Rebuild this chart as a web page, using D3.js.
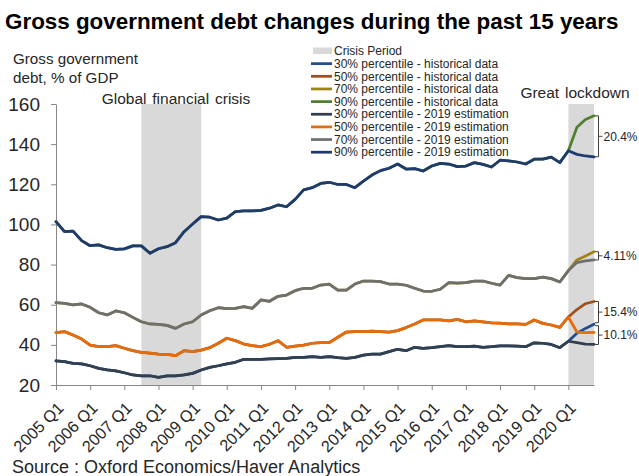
<!DOCTYPE html>
<html>
<head>
<meta charset="utf-8">
<script src="https://cdn.jsdelivr.net/npm/d3@7"></script>
<style>
  body { margin: 0; background: #fff; }
  svg { font-family: 'Liberation Sans', Arial, sans-serif; }
  .axis path, .axis line { stroke: #868686; }
  .axis text { fill: #262626; }
  .line { fill: none; stroke-width: 2.75; stroke-linejoin: round; stroke-linecap: round; }
</style>
</head>
<body>
<svg id="chart" width="639" height="476"></svg>
<script>
const margin = {top: 104, right: 45, bottom: 91, left: 56};

// categories
const years = ['2005', '2006', '2007', '2008', '2009', '2010', '2011', '2012',
               '2013', '2014', '2015', '2016', '2017', '2018', '2019', '2020'];
const quarterNames = ['Q1', 'Q2', 'Q3', 'Q4'];
const tickLabels = ['2005 Q1', '2006 Q1', '2007 Q1', '2008 Q1', '2009 Q1', '2010 Q1',
                    '2011 Q1', '2012 Q1', '2013 Q1', '2014 Q1', '2015 Q1', '2016 Q1',
                    '2017 Q1', '2018 Q1', '2019 Q1', '2020 Q1'];

// 2005 Q1 - 2020 Q1, shared by historical data and 2019 estimation
const p30 = [32.0, 31.6, 30.8, 30.5, 29.6, 28.3, 27.5, 27.0, 26.1, 25.0,
             24.6, 24.6, 23.8, 24.5, 24.6, 25.0, 25.8, 27.5, 28.8, 29.6,
             30.5, 31.3, 32.8, 32.8, 32.8, 33.0, 33.2, 33.3, 33.8, 33.8,
             34.1, 33.8, 34.1, 33.6, 33.3, 33.8, 34.9, 35.4, 35.4, 36.6,
             37.8, 37.1, 38.8, 38.3, 38.6, 39.1, 39.6, 39.1, 39.1, 39.4,
             38.8, 39.1, 39.5, 39.5, 39.4, 39.1, 41.0, 40.8, 40.2, 38.6, 41.8];
const p50 = [46.1, 46.6, 44.9, 42.9, 39.9, 39.1, 39.1, 39.6, 38.3, 37.1,
             36.3, 35.9, 35.4, 35.3, 34.6, 37.1, 36.6, 37.4, 38.6, 40.8,
             43.3, 42.1, 40.4, 39.6, 39.1, 40.3, 42.1, 38.8, 39.4, 39.9,
             40.8, 41.1, 41.1, 43.8, 46.4, 46.6, 46.6, 46.9, 46.6, 46.3,
             47.1, 48.6, 50.4, 52.4, 52.4, 52.4, 52.0, 52.7, 51.5, 51.9,
             51.5, 51.0, 50.8, 50.5, 50.5, 50.2, 52.4, 50.7, 49.9, 48.7, 53.9];
const p70 = [61.0, 60.7, 59.9, 60.4, 58.7, 56.0, 54.9, 56.9, 56.0, 53.7,
             51.5, 50.4, 50.2, 49.7, 48.2, 50.4, 51.5, 54.9, 57.0, 58.5,
             58.0, 58.2, 59.0, 58.2, 62.4, 61.7, 64.2, 64.8, 67.0, 68.2,
             68.2, 69.8, 70.3, 67.3, 67.3, 70.3, 71.8, 71.8, 71.5, 70.3,
             70.3, 69.7, 68.2, 66.8, 66.7, 67.7, 71.0, 70.7, 71.0, 71.8,
             71.8, 70.7, 69.8, 74.6, 73.5, 73.0, 73.0, 73.7, 73.0, 71.3, 77.0];
const p90 = [101.4, 96.4, 96.7, 91.9, 89.4, 89.8, 88.4, 87.6, 87.8, 89.3,
             89.3, 85.6, 87.9, 88.9, 90.9, 96.4, 100.2, 103.9, 103.6, 102.2,
             103.1, 106.4, 106.7, 106.7, 107.0, 108.1, 109.7, 108.8, 112.5, 117.2,
             118.3, 120.4, 121.0, 119.9, 119.9, 118.3, 121.6, 124.6, 126.8, 128.0,
             130.1, 127.6, 127.8, 126.6, 129.1, 130.4, 130.1, 128.8, 129.1, 130.8,
             129.9, 128.6, 132.0, 131.7, 131.1, 130.1, 132.5, 132.5, 133.5, 130.8, 136.7];

// 2020 Q2 - 2020 Q4
const hist30Rest = [45.8, 48.2, 50.3];
const hist50Rest = [57.6, 60.5, 61.6];
const hist70Rest = [82.3, 84.3, 86.4];
const hist90Rest = [148.4, 152.3, 154.1];
const est30Rest = [41.1, 40.4, 40.2];
const est50Rest = [46.4, 46.1, 46.2];
const est70Rest = [81.0, 81.8, 82.3];
const est90Rest = [134.9, 134.1, 133.7];

const seriesNames = ['30% percentile - historical data', '50% percentile - historical data',
                     '70% percentile - historical data', '90% percentile - historical data',
                     '30% percentile - 2019 estimation', '50% percentile - 2019 estimation',
                     '70% percentile - 2019 estimation', '90% percentile - 2019 estimation'];
const seriesColors = ['#1f4e8c', '#a0501c', '#9e8216', '#4f7f2f',
                      '#323f4f', '#e46c0a', '#6f6f6f', '#1f3a6e'];

const crisisFrom = ['2007 Q3', '2020 Q1'];
const crisisTo = ['2009 Q2', '2020 Q4'];
const gapLabels = ['20.4%', '4.11%', '15.4%', '10.1%'];

function chart() {
    let quarters = [];
    years.forEach((yr) => {
      quarterNames.forEach((q) => { quarters.push(yr + ' ' + q); });
    });

    let seriesValues = [
      p30.concat(hist30Rest), p50.concat(hist50Rest), p70.concat(hist70Rest), p90.concat(hist90Rest),
      p30.concat(est30Rest), p50.concat(est50Rest), p70.concat(est70Rest), p90.concat(est90Rest)
    ];

    let width = 639 - margin.left - margin.right;
    let height = 476 - margin.top - margin.bottom;

    let svg = d3.select('#chart');
    let g = svg.append('g')
      .attr('transform', 'translate(' + margin.left + ',' + margin.top + ')');

    // set ranges
    let x = d3.scalePoint().domain(quarters).range([0, width]);
    let y = d3.scaleLinear().domain([20, 160]).range([height, 0]);

    // crisis period shading
    g.selectAll('rect.crisis')
      .data(crisisFrom)
      .enter().append('rect')
      .attr('class', 'crisis')
      .attr('x', (d) => x(d))
      .attr('y', 0)
      .attr('width', (d, i) => x(crisisTo[i]) - x(d))
      .attr('height', height)
      .attr('fill', '#d9d9d9');

    // draw y-axis
    let yAxis = g.append('g')
      .attr('class', 'axis axis-y')
      .call(d3.axisLeft(y).tickValues(d3.range(20, 161, 20)).tickSize(5).tickPadding(11).tickSizeOuter(0));
    yAxis.attr('font-size', 19).attr('font-family', null);

    // draw x-axis
    let xAxis = g.append('g')
      .attr('class', 'axis axis-x')
      .attr('transform', 'translate(0,' + height + ')')
      .call(d3.axisBottom(x).tickValues(tickLabels).tickSize(5).tickSizeOuter(0));
    xAxis.attr('font-size', 16.3).attr('font-family', null);
    xAxis.selectAll('text')
      .attr('x', 0)
      .attr('y', 0)
      .attr('dy', '0.35em')
      .attr('text-anchor', 'end')
      .attr('transform', 'translate(4,20) rotate(-45)');

    // lines, historical first so the estimation sits on top
    let valueLine = d3.line()
      .x((d, i) => x(quarters[i]))
      .y((d) => y(d));

    g.selectAll('path.line')
      .data(seriesValues)
      .enter().append('path')
      .attr('class', 'line')
      .attr('stroke', (d, i) => seriesColors[i])
      .attr('d', valueLine);

    // brackets showing the gap at 2020 Q4
    let last = (arr) => arr[arr.length - 1];
    let gapTop = [last(hist90Rest), last(hist70Rest), last(hist50Rest), last(hist30Rest)];
    let gapBottom = [last(est90Rest), last(est70Rest), last(hist30Rest), last(est30Rest)];
    let bx = width;
    gapLabels.forEach((label, i) => {
      let t = y(gapTop[i]) + (i === 3 ? 1.5 : 0);
      let b = y(gapBottom[i]) - (i === 2 ? 1.5 : 0);
      let m = (t + b) / 2;
      g.append('path')
        .attr('d', 'M' + (bx + 1) + ',' + t + 'H' + (bx + 4.5) + 'V' + b + 'H' + (bx + 1) +
                   'M' + (bx + 4.5) + ',' + m + 'H' + (bx + 8.5))
        .attr('fill', 'none')
        .attr('stroke', '#404040')
        .attr('stroke-width', 1);
      g.append('text')
        .attr('x', bx + 9.5)
        .attr('y', m)
        .attr('dy', '0.35em')
        .attr('font-size', 12)
        .attr('fill', '#262626')
        .text(label);
    });

    // crisis labels
    svg.append('text')
      .attr('x', 176)
      .attr('y', 104)
      .attr('text-anchor', 'middle')
      .attr('font-size', 15.5)
      .attr('fill', '#262626')
      .style('word-spacing', '1.5px')
      .text('Global financial crisis');
    svg.append('text')
      .attr('x', 575)
      .attr('y', 98)
      .attr('text-anchor', 'middle')
      .attr('font-size', 15.5)
      .attr('fill', '#262626')
      .style('word-spacing', '1.5px')
      .text('Great lockdown');

    // draw legend
    let legend = svg.append('g')
      .attr('class', 'legend')
      .attr('transform', 'translate(311,51)')
      .style('font-size', '12px');
    legend.append('rect')
      .attr('x', 2)
      .attr('y', -3.5)
      .attr('width', 19)
      .attr('height', 6.5)
      .attr('fill', '#d9d9d9');
    legend.append('text')
      .attr('x', 23)
      .attr('y', 0)
      .attr('dy', '0.35em')
      .attr('fill', '#262626')
      .text('Crisis Period');
    seriesNames.forEach((name, i) => {
      let ly = (i + 1) * 12.65;
      legend.append('line')
        .attr('x1', 0)
        .attr('x2', 21)
        .attr('y1', ly)
        .attr('y2', ly)
        .attr('stroke', seriesColors[i])
        .attr('stroke-width', 2.75);
      legend.append('text')
        .attr('x', 23)
        .attr('y', ly)
        .attr('dy', '0.35em')
        .attr('fill', '#262626')
        .text(name);
    });

    // titles
    svg.append('text')
      .attr('x', 5)
      .attr('y', 29)
      .attr('font-size', 22.4)
      .attr('font-weight', 'bold')
      .attr('fill', '#000')
      .text('Gross government debt changes during the past 15 years');
    svg.append('text')
      .attr('x', 13)
      .attr('y', 64)
      .attr('font-size', 15.2)
      .attr('fill', '#262626')
      .text('Gross government');
    svg.append('text')
      .attr('x', 13)
      .attr('y', 83)
      .attr('font-size', 15.2)
      .attr('fill', '#262626')
      .text('debt, % of GDP');
    svg.append('text')
      .attr('x', 12)
      .attr('y', 473)
      .attr('font-size', 18)
      .attr('fill', '#262626')
      .text('Source : Oxford Economics/Haver Analytics');
}

chart();
</script>
</body>
</html>
